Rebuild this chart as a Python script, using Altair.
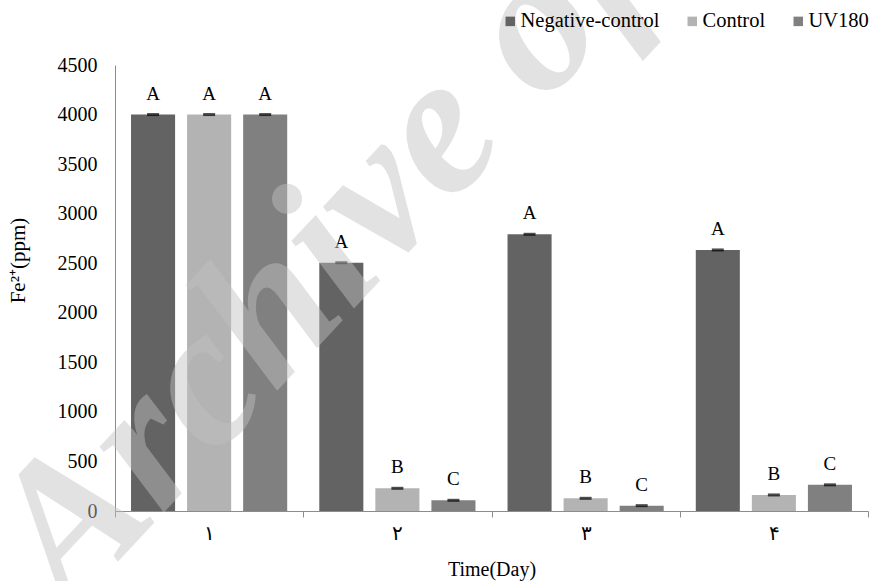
import altair as alt
import pandas as pd

days = ["۱", "۲", "۳", "۴"]
series = ["Negative-control", "Control", "UV180"]
neg_control = [4000, 2505, 2792, 2634]
control = [4000, 229, 128, 162]
uv180 = [4000, 108, 54, 264]
letters_neg = ["A", "A", "A", "A"]
letters_ctrl = ["A", "B", "B", "B"]
letters_uv = ["A", "C", "C", "C"]
colors = ["#636363", "#b3b3b3", "#808080"]

rows = []
for i, d in enumerate(days):
    for s, vals, lets in zip(series, [neg_control, control, uv180],
                             [letters_neg, letters_ctrl, letters_uv]):
        rows.append({"day": d, "series": s, "value": vals[i], "letter": lets[i]})
df = pd.DataFrame(rows)

FONT = "Liberation Serif, Times New Roman, serif"
FS = 20

x_enc = alt.X("day:N", sort=days,
              scale=alt.Scale(paddingInner=0, paddingOuter=0),
              axis=alt.Axis(title="Time(Day)", labelAngle=0, tickBand="extent",
                            domainColor="#8c8c8c", tickColor="#8c8c8c",
                            tickSize=6, labelPadding=6, labelFontSize=FS,
                            labelFont=FONT, labelColor="black",
                            titleFont=FONT, titleFontSize=FS, titleFontWeight="normal",
                            titleColor="black", titleY=58, titleBaseline="middle"))
xoff = alt.XOffset("series:N", sort=series,
                   scale=alt.Scale(paddingInner=0.214, paddingOuter=0.286))
y_enc = alt.Y("value:Q",
              scale=alt.Scale(domain=[0, 4500], nice=False),
              axis=alt.Axis(title="Fe²⁺(ppm)", values=list(range(0, 4501, 500)),
                            format="d",
                            grid=False, ticks=False, domainColor="#8c8c8c",
                            labelPadding=18, labelFontSize=FS, labelFont=FONT,
                            labelColor="black", titleFont=FONT, titleFontSize=21,
                            titleFontWeight="normal", titleColor="black",
                            titleAngle=270, titleX=-97, titleY=195,
                            titleBaseline="middle", titleAlign="center"))

bars = alt.Chart(df).mark_bar().encode(
    x=x_enc, xOffset=xoff, y=y_enc,
    color=alt.Color("series:N", sort=series,
                    scale=alt.Scale(domain=series, range=colors),
                    legend=alt.Legend(title=None, orient="none", direction="horizontal",
                                      legendX=385, legendY=-54, symbolType="square",
                                      symbolSize=90, symbolStrokeWidth=0,
                                      labelFont=FONT, labelFontSize=20.5,
                                      labelColor="black", columnPadding=22,
                                      labelOffset=0))
)

caps = alt.Chart(df).mark_tick(color="black", thickness=3, size=12).encode(
    x=alt.X("day:N", sort=days), xOffset=alt.XOffset("series:N", sort=series), y="value:Q"
)

labels = alt.Chart(df).mark_text(font=FONT, fontSize=19, color="black", dy=-21).encode(
    x=alt.X("day:N", sort=days), xOffset=alt.XOffset("series:N", sort=series),
    y="value:Q", text="letter:N"
)

watermark = alt.Chart(pd.DataFrame({"t": ["Archive of SID"]})).mark_text(
    font=FONT, fontSize=200, fontWeight="bold", fontStyle="italic",
    color="#c2c2c2", opacity=0.46, angle=313, align="left", baseline="alphabetic"
).encode(x=alt.value(-45), y=alt.value(548), text="t:N")

chart = alt.layer(bars, caps, labels, watermark).properties(
    width=753, height=446,
    autosize=alt.AutoSizeParams(type="none"),
    padding={"left": 115, "top": 65, "right": 4, "bottom": 70},
).configure(font=FONT).configure_view(stroke=None)

chart.save("out.html", embed_options={"renderer": "svg", "actions": False})
